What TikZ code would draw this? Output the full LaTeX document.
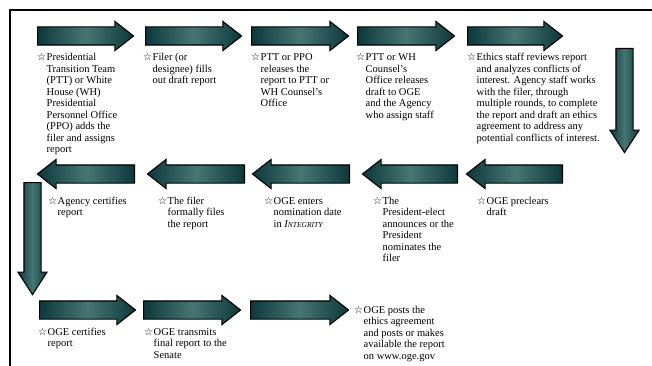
\documentclass[tikz,border=0pt]{standalone}
\usepackage{fontspec}
\setmainfont{Liberation Serif}
\newfontfamily\symfont{DejaVu Sans}
\usetikzlibrary{shapes.arrows,backgrounds}
\definecolor{tealdark}{RGB}{14,56,60}
\definecolor{teallight}{RGB}{70,118,114}
\definecolor{linegray}{RGB}{205,205,205}
\newcommand{\stx}{\makebox[9.5pt][l]{\symfont\fontsize{10}{10}\selectfont ☆}}
\newcommand{\blk}[1]{\stx\begin{tabular}[t]{@{}l@{}}#1\end{tabular}}
\tikzset{
  arrbase/.style={single arrow, draw=black, line width=1.1pt, anchor=tail,
    left color=tealdark, right color=tealdark, middle color=teallight},
  harr/.style={arrbase, inner sep=8.5pt, minimum width=28pt, single arrow head extend=5.5pt, single arrow tip angle=76},
  larr/.style={harr, shape border rotate=180},
  varr/.style={arrbase, inner sep=8pt, minimum width=28pt, single arrow head extend=6pt, single arrow tip angle=66, shape border rotate=270},
  txt/.style={anchor=base west, inner sep=0pt, font=\fontsize{10.5}{11.5}\selectfont},
  conn/.style={draw=linegray, line width=3pt},
  frame/.style={draw=black, line width=1.2pt}
}
\begin{document}
\begin{tikzpicture}[x=1pt,y=-1pt]
\useasboundingbox (0,0) rectangle (652,366);
\fill[white] (0,0) rectangle (652,366);
\draw[frame] (652,10) -- (10,10) -- (10,366);
% row 1 arrows
\node[harr, minimum height=96pt] (a1) at (37,36) {};
\node[harr, minimum height=96pt] (a2) at (145,36) {};
\node[harr, minimum height=97pt] (a3) at (251,36) {};
\node[harr, minimum height=97pt] (a4) at (357,36) {};
\node[harr, minimum height=95pt] (a5) at (467,36) {};
\node[varr, minimum height=104pt] (v1) at (624.5,48) {};
% row 2 arrows (pointing left)
\node[larr, minimum height=96pt] (b5) at (563,174) {};
\node[larr, minimum height=95pt] (b4) at (458,174) {};
\node[larr, minimum height=97pt] (b3) at (350,174) {};
\node[larr, minimum height=97pt] (b2) at (245,174) {};
\node[larr, minimum height=97pt] (b1) at (135,174) {};
\node[varr, minimum height=112pt] (v2) at (32.5,182) {};
% row 3 arrows
\node[harr, minimum height=96pt] (c1) at (39,310) {};
\node[harr, minimum height=97pt] (c2) at (143,310) {};
\node[harr, minimum height=98pt] (c3) at (250,310) {};
% connector path
\coordinate (tr) at (625,36);
\coordinate (rr) at (625,174);
\coordinate (ll) at (32,174);
\coordinate (lb) at (32,310);
\begin{scope}[on background layer]
\draw[conn] (a1.center) -- (tr) -- (rr) -- (ll) -- (lb) -- (c3.center);
\end{scope}
% texts row 1
\node[txt] (t1) at (37,61) {\blk{Presidential\\Transition Team\\(PTT) or White\\House (WH)\\Presidential\\Personnel Office\\(PPO) adds the\\filer and assigns\\report}};
\node[txt] (t2) at (143,61) {\blk{Filer (or\\designee) fills\\out draft report}};
\node[txt] (t3) at (251,61) {\blk{PTT or PPO\\releases the\\report to PTT or\\WH Counsel’s\\Office}};
\node[txt] (t4) at (356,61) {\blk{PTT or WH\\Counsel’s\\Office releases\\draft to OGE\\and the Agency\\who assign staff}};
\node[txt] (t5) at (467,61) {\blk{Ethics staff reviews report\\and analyzes conflicts of\\interest. Agency staff works\\with the filer, through\\multiple rounds, to complete\\the report and draft an ethics\\agreement to address any\\potential conflicts of interest.}};
% texts row 2
\node[txt] (t6) at (48,204) {\blk{Agency certifies\\report}};
\node[txt] (t7) at (158,204) {\blk{The filer\\formally files\\the report}};
\node[txt] (t8) at (264,204) {\blk{OGE enters\\nomination date\\in \textit{I{\fontsize{7.5}{9}\selectfont NTEGRITY}}}};
\node[txt] (t9) at (373,204) {\blk{The\\President-elect\\announces or the\\President\\nominates the\\filer}};
\node[txt] (t10) at (477,204) {\blk{OGE preclears\\draft}};
% texts row 3
\node[txt] (t11) at (38,335) {\blk{OGE certifies\\report}};
\node[txt] (t12) at (144,335) {\blk{OGE transmits\\final report to the\\Senate}};
\node[txt] (t13) at (354,313) {\blk{OGE posts the\\ethics agreement\\and posts or makes\\available the report\\on www.oge.gov}};
\end{tikzpicture}
\end{document}
